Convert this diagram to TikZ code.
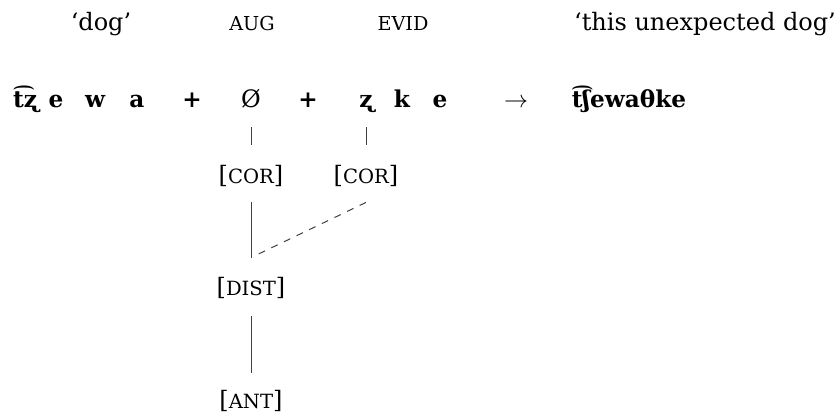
\documentclass[tikz,border=0pt]{standalone}
\usepackage{fontspec}
\setmainfont{DejaVu Serif}
\usetikzlibrary{calc}

% small caps faked with reduced capitals
\newcommand\glsc[1]{{\fontsize{9.6pt}{12pt}\selectfont\MakeUppercase{#1}}}
\newcommand\ftsc[1]{{\fontsize{9.8pt}{12pt}\selectfont\MakeUppercase{#1}}}

\begin{document}
\begin{tikzpicture}[x=0.5pt,y=-0.5pt,
  every node/.style={inner sep=0pt, anchor=base},
  gloss/.style={font=\fontsize{12pt}{15pt}\selectfont},
  form/.style={font=\fontsize{11.6pt}{15pt}\selectfont\bfseries, text depth=0pt},
  plain/.style={font=\fontsize{12pt}{15pt}\selectfont, text depth=0pt},
  feat/.style={font=\fontsize{12pt}{15pt}\selectfont, text height=9pt, text depth=2pt},
  link/.style={draw=black!75, line width=0.5pt},
  tick/.style={link, shorten <=10pt, shorten >=10pt}]
\useasboundingbox (0,0) rectangle (837,414);

% glosses
\node[gloss] (g1) at (101,30) {‘dog’};
\node[gloss] (g2) at (252,30) {\glsc{aug}};
\node[gloss] (g3) at (403,30) {\glsc{evid}};
\node[gloss] (g4) at (705,30) {‘this unexpected dog’};

% segments
\node[form] (s1) at (25,107) {t͡ʐ};
\node[form] (s2) at (56,107) {e};
\node[form] (s3) at (95,107) {w};
\node[form] (s4) at (137,107) {a};
\node[form] (p1) at (192,107) {+};
\node[plain] (zero) at (251,107) {Ø};
\node[form] (p2) at (308,107) {+};
\node[form] (zr) at (366,107) {ʐ};
\node[form] (s5) at (402,107) {k};
\node[form] (s6) at (440,107) {e};
\node[plain] (arr) at (516,107) {$\rightarrow$};
\node[form] (out) at (629,107) {t͡ʃewaθke};

% features
\node[feat] (cor1) at (251,183) {[\ftsc{cor}]};
\node[feat] (cor2) at (366,183) {[\ftsc{cor}]};
\node[feat] (dist) at (251,295) {[\ftsc{dist}]};
\node[feat] (ant)  at (251,408) {[\ftsc{ant}]};

\draw[tick] (zero.south) -- (cor1.north);
\draw[tick] (zr.south) -- (cor2.north);

\coordinate (c1) at ($(cor1.south)+(0,15)$);
\coordinate (c2) at ($(cor2.south)+(0,15)$);
\coordinate (joint) at ($(dist.north)+(0,-19)$);
\draw[link] (c1) -- (joint);
\draw[link, dash pattern=on 3.5pt off 3.5pt, shorten >=3.5pt] (c2) -- (joint);
\draw[link, shorten <=8.5pt, shorten >=8.5pt] (dist.south) -- (ant.north);
\end{tikzpicture}
\end{document}
